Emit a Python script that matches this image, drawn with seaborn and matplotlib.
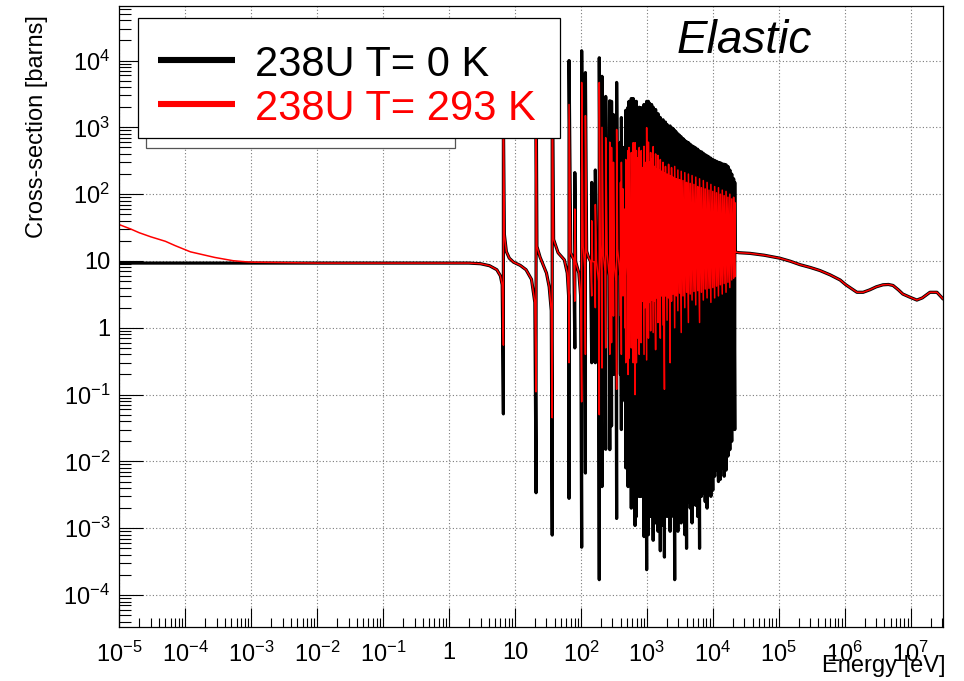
import numpy as np
import pandas as pd
import matplotlib
matplotlib.use("Agg")
import matplotlib.pyplot as plt
import seaborn as sns
from matplotlib.ticker import LogLocator, FuncFormatter, NullFormatter
from matplotlib.patches import Rectangle
from matplotlib.lines import Line2D

# ---------------- data ----------------
# thermal region (eV, barns)
thermal_E = [1e-5, 1.5e-5, 2e-5, 3e-5, 5e-5, 7e-5, 1.2e-4, 2e-4, 2.8e-4, 5.3e-4,
             7.5e-4, 1e-3, 1e-2, 0.1, 1.0]
thermal_0K = [9.3, 9.3, 9.3, 9.3, 9.3, 9.3, 9.3, 9.3, 9.3, 9.3,
              9.3, 9.3, 9.3, 9.3, 9.3]
thermal_293K = [35, 30, 26.5, 23, 19.7, 17, 13.7, 12.2, 11.3, 10.1,
                9.8, 9.6, 9.3, 9.3, 9.3]

# smooth background between the resolved resonances (shared by both curves)
bg_E = [2.0, 3.0, 4.1, 5.3, 6.0, 6.4, 6.9, 7.4, 8.2, 9.5, 12, 14.7, 17.8, 20.0,
        21.5, 24, 30, 33, 35.5, 38.5, 45, 56, 62, 65, 70, 78, 83, 93, 99,
        108, 114, 122, 130, 140, 150, 160, 172, 185, 196, 204, 220, 232, 250,
        268, 282, 288, 300, 308, 320, 340, 360, 392, 404, 420, 430, 445, 458,
        470, 495, 512, 527, 555, 575, 588, 605, 615, 624, 640, 655, 675, 688,
        700, 715, 740, 760, 773, 800, 815]
bg_sigma = [9.3, 9.1, 8.5, 7.4, 6.0, 4.4, 25, 13.8, 11, 9.6, 8.6, 7.4, 5.3, 2.4,
            16.5, 11.4, 6.6, 4.1, 1.8, 21, 13.3, 10.4, 6.6, 3.0, 13.3, 10.4, 9.8, 6.6, 3.0,
            16.5, 8.0, 14, 11.4, 9.8, 9.9, 9.6, 10, 5.0, 18, 7.0, 12, 7.0, 13,
            6.0, 12, 6.0, 12, 8.0, 10, 5.0, 15, 6.0, 8.0, 13, 8.0, 10, 8.0,
            9.0, 13, 6.0, 10, 12, 6.0, 9.0, 13, 7.0, 9.0, 12, 6.0, 12, 7.0,
            10, 10, 11, 6.0, 10, 11, 7.0]

# resonances: energy, 0 K peak / dip, 293 K peak / dip
res_E = [6.67, 20.87, 36.68, 66.03, 80.75, 102.56, 116.9, 145.66, 165.29, 189.67,
         208.51, 237.38, 273.66, 291.0, 311.4, 347.8, 397.6, 410.2, 434.0, 463.0,
         478.3, 518.5, 535.3, 580.2, 594.9, 619.9, 628.5, 661.1, 693.1, 708.3,
         721.6, 765.5, 782.0,
         821.6, 856.1, 905.0, 937.2, 991.8, 1023.6, 1054.4, 1098.2, 1140.5, 1178.1,
         1245.2, 1297.5, 1355.7, 1405.5, 1473.8, 1522.6, 1597.9, 1662, 1755, 1845,
         1912, 2023, 2134, 2250, 2365, 2491, 2640, 2790, 2950, 3128,
         3315, 3527, 3755, 3995, 4260, 4540, 4840, 5170, 5510, 5890,
         6290, 6710, 7170, 7660, 8180, 8740, 9340, 9980, 10660, 11390,
         12170, 13000, 13890, 14840, 15860, 16940, 18100, 19340, 20660, 21500]
peak_0K = [1450, 11000, 25000, 10000, 210, 14000, 6600, 150, 230, 11000,
           5800, 2900, 2500, 2450, 1550, 4700, 600, 1400, 500, 220,
           1800, 2000, 2450, 2700, 1800, 2700, 900, 2450, 2450, 1500,
           900, 2000, 1600,
           1970, 1500, 2200, 1200, 2450, 1800, 2450, 2300, 1600, 2200,
           2000, 1700, 1850, 1300, 1600, 1450, 1400, 1250, 1300, 1150,
           1200, 1100, 1000, 1050, 990, 960, 900, 850, 800, 760,
           720, 680, 640, 610, 590, 560, 530, 510, 490, 470,
           440, 430, 410, 390, 375, 360, 345, 330, 320, 310,
           300, 295, 285, 280, 275, 260, 230, 200, 170, 150]
dip_0K = [0.0515, 0.0034, 0.00079, 0.0028, 0.5, 0.00052, 0.0067, 0.3, 0.3, 0.00017,
          0.0042, 0.0152, 0.015, 0.034, 0.2, 0.0014, 0.2, 0.03, 0.5, 0.08,
          0.008, 0.0042, 0.006, 0.002, 0.01, 0.004, 0.02, 0.0011, 0.0015, 0.008,
          0.02, 0.003, 0.003,
          0.003, 0.01, 0.00075, 0.005, 0.00024, 0.002, 0.0008, 0.004, 0.0015, 0.006,
          0.00066, 0.003, 0.0012, 0.008, 0.0009, 0.0025, 0.00046, 0.004, 0.0011, 0.00037,
          0.005, 0.0015, 0.003, 0.0009, 0.0015, 0.004, 0.00017, 0.002, 0.0009, 0.0047,
          0.0012, 0.003, 0.0008, 0.0005, 0.0025, 0.002, 0.0012, 0.004, 0.0022, 0.0015,
          0.0005, 0.003, 0.0034, 0.0025, 0.002, 0.005, 0.003, 0.0037, 0.006, 0.0074,
          0.005, 0.0054, 0.008, 0.006, 0.0074, 0.012, 0.015, 0.02, 0.033, 0.03]
peak_293K = [1200, 3000, 5000, 2200, 60, 4700, 1500, 40, 70, 4700,
             1000, 700, 600, 500, 300, 930, 150, 300, 120, 60,
             330, 450, 500, 420, 400, 590, 250, 590, 450, 350,
             250, 500, 420,
             450, 250, 520, 300, 990, 380, 600, 300, 420, 330,
             515, 260, 400, 240, 380, 230, 330, 220, 300, 210,
             260, 200, 280, 190, 250, 180, 260, 170, 230, 165,
             220, 160, 210, 150, 200, 145, 190, 140, 180, 130,
             170, 125, 160, 120, 150, 115, 140, 110, 130, 105,
             125, 100, 115, 95, 110, 90, 100, 85, 90, 75]
dip_293K = [0.55, 0.11, 0.045, 0.30, 2.5, 0.078, 0.4, 3.0, 2.0, 0.05,
            0.25, 0.5, 0.4, 0.6, 1.5, 0.12, 1.5, 0.4, 3.0, 1.0,
            0.3, 0.2, 0.35, 0.5, 0.8, 0.3, 1.2, 0.1, 0.3, 0.7,
            1.5, 0.4, 0.6,
            0.6, 2.5, 0.4, 2.0, 0.33, 2.2, 0.7, 2.4, 0.9, 2.6,
            0.85, 2.5, 0.47, 2.8, 1.2, 2.6, 0.7, 3.0, 1.1, 0.12,
            3.0, 1.3, 2.8, 0.3, 2.5, 3.2, 1.0, 3.0, 1.8, 3.3,
            0.85, 3.0, 2.0, 3.4, 1.2, 3.2, 2.6, 3.5, 2.2, 3.6,
            1.2, 3.4, 2.6, 3.8, 2.8, 3.9, 2.4, 4.0, 2.8, 4.2,
            3.0, 4.4, 3.2, 4.6, 3.4, 4.8, 4.0, 5.2, 5.5, 5.8]

# fast region (shared)
fast_E = [2.17e4, 2.5e4, 3.66e4, 6e4, 1.04e5, 1.5e5, 2.1e5, 3e5, 4.2e5, 6e5,
          8.5e5, 1.04e6, 1.3e6, 1.53e6, 1.9e6, 2.4e6, 3e6, 3.8e6, 4.6e6, 5.4e6,
          6.5e6, 7.6e6, 9.5e6, 1.24e7, 1.5e7, 1.96e7, 2.5e7, 3.1e7]
fast_sigma = [13.6, 13.3, 13.0, 12.2, 11.0, 9.9, 8.8, 8.0, 7.2, 6.2,
              5.2, 4.4, 3.8, 3.4, 3.4, 3.7, 4.1, 4.4, 4.45, 4.3,
              3.7, 3.2, 2.9, 2.6, 2.8, 3.4, 3.4, 2.7]

legend_labels = ["238U T= 0 K", "238U T= 293 K"]
series_colors = ["black", "red"]


def build_curve(th_E, th_s, dips, peaks):
    pts = [(e, 0, s) for e, s in zip(th_E, th_s)]
    pts += [(e, 0, s) for e, s in zip(bg_E, bg_sigma)]
    pts += [(e, 0, d) for e, d in zip(res_E, dips)]
    pts += [(e, 1, p) for e, p in zip(res_E, peaks)]
    pts += [(e, 0, s) for e, s in zip(fast_E, fast_sigma)]
    pts.sort(key=lambda t: (t[0], t[1]))
    return pd.DataFrame({"E": [p[0] for p in pts], "sigma": [p[2] for p in pts]})


df0 = build_curve(thermal_E, thermal_0K, dip_0K, peak_0K)
df3 = build_curve(thermal_E, thermal_293K, dip_293K, peak_293K)

# ---------------- styling ----------------
sns.set_theme(style="white")
plt.rcParams["font.family"] = ["Liberation Sans", "DejaVu Sans"]
plt.rcParams["mathtext.fontset"] = "custom"
plt.rcParams["mathtext.rm"] = "Liberation Sans"
plt.rcParams["mathtext.it"] = "Liberation Sans:italic"
plt.rcParams["mathtext.bf"] = "Liberation Sans:bold"

W, H = 964, 681
fig = plt.figure(figsize=(W / 100, H / 100), dpi=100)
fig.patch.set_facecolor("white")
L, R, T, B = 119.3, 943.0, 6.0, 626.7
ax = fig.add_axes([L / W, 1 - B / H, (R - L) / W, (B - T) / H])
ax.set_facecolor("white")
ax.set_xscale("log")
ax.set_yscale("log")

sns.lineplot(data=df0, x="E", y="sigma", sort=False, estimator=None,
             color=series_colors[0], lw=2.3, ax=ax, legend=False)
sns.lineplot(data=df3, x="E", y="sigma", sort=False, estimator=None,
             color=series_colors[1], lw=1.1, ax=ax, legend=False)

ax.set_xlim(1e-5, 3.09e7)
ax.set_ylim(3.36e-5, 6.55e4)


def fmt(v, pos):
    e = int(round(np.log10(v)))
    if e == 0:
        return "1"
    if e == 1:
        return "10"
    return r"$10^{%d}$" % e


for axis in (ax.xaxis, ax.yaxis):
    axis.set_major_locator(LogLocator(base=10, numticks=40))
    axis.set_minor_locator(LogLocator(base=10, subs=np.arange(2, 10) * 1.0, numticks=300))
    axis.set_major_formatter(FuncFormatter(fmt))
    axis.set_minor_formatter(NullFormatter())

ax.tick_params(axis="x", which="major", direction="in", length=13.4, width=0.8,
               pad=11, labelsize=17, bottom=True, top=False, color="black", labelcolor="black")
ax.tick_params(axis="x", which="minor", direction="in", length=6.7, width=0.8,
               bottom=True, top=False, color="black")
ax.tick_params(axis="y", which="major", direction="in", length=17.5, width=0.8,
               pad=6.5, labelsize=17, left=True, right=False, color="black", labelcolor="black")
ax.tick_params(axis="y", which="minor", direction="in", length=8.5, width=0.8,
               left=True, right=False, color="black")

ax.grid(True, which="major", color="#7a7a7a", linestyle=(0, (1, 2)), lw=0.8)
ax.grid(False, which="minor")
ax.set_axisbelow(True)
for s in ax.spines.values():
    s.set_visible(True)
    s.set_color("black")
    s.set_linewidth(0.9)

ylab = ax.set_ylabel("Cross-section [barns]", fontsize=17, color="black")
ax.yaxis.set_label_coords((37 - L) / (R - L), (B - 15) / (B - T))
ylab.set_ha("right")
ylab.set_va("center")
xlab = ax.set_xlabel("Energy [eV]", fontsize=17, color="black")
ax.xaxis.set_label_coords((945 - L) / (R - L), (B - 655) / (B - T))
xlab.set_ha("right")
xlab.set_va("top")


def fx(x):
    return x / W


def fy(y):
    return 1 - y / H


# box behind legend
fig.add_artist(Rectangle((fx(146), fy(148)), fx(455) - fx(146), fy(100) - fy(148),
                         transform=fig.transFigure, facecolor="white",
                         edgecolor="#555555", lw=0.9, zorder=5))
# legend box
fig.add_artist(Rectangle((fx(138), fy(138)), fx(560) - fx(138), fy(18) - fy(138),
                         transform=fig.transFigure, facecolor="white",
                         edgecolor="black", lw=0.9, zorder=6))
for i, (lab, col) in enumerate(zip(legend_labels, series_colors)):
    yy = [60, 104][i]
    fig.add_artist(Line2D([fx(158), fx(235)], [fy(yy), fy(yy)], transform=fig.transFigure,
                          color=col, lw=4.4, solid_capstyle="butt", zorder=7))
    fig.text(fx(255), fy(yy), lab, color=col, fontsize=30, ha="left", va="center_baseline",
             zorder=7)

fig.text(fx(677), fy(53), "Elastic", fontsize=33, style="italic", ha="left",
         va="baseline", color="black")

fig.savefig("out.png", dpi=100, facecolor="white")
